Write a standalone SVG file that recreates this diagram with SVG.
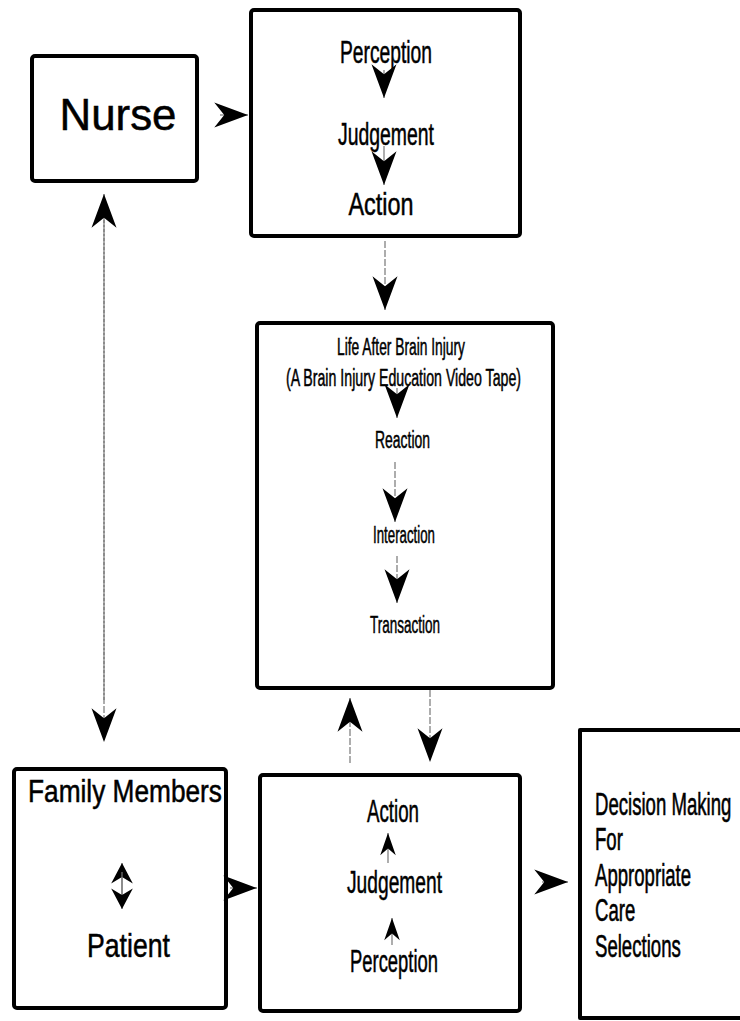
<svg xmlns="http://www.w3.org/2000/svg" width="740" height="1021" viewBox="0 0 740 1021">
<style>
.box{fill:#fff;stroke:#000;stroke-width:4;stroke-linejoin:round}
.open{fill:none;stroke:#000;stroke-width:4;stroke-linejoin:round}
.t{font-family:"Liberation Sans",Arial,sans-serif;fill:#000;stroke:#000;stroke-width:0.5;text-anchor:middle}
.tl{font-family:"Liberation Sans",Arial,sans-serif;fill:#000;stroke:#000;stroke-width:0.6;text-anchor:start}
.c{fill:none;stroke:#777;stroke-width:1.2}
.d{fill:none;stroke:#777;stroke-width:1.2;stroke-dasharray:7 2}
</style>
<defs>
<marker id="ah" markerUnits="userSpaceOnUse" markerWidth="40" markerHeight="30" viewBox="-28 -12 30 24" refX="0" refY="0" orient="auto">
<path d="M0,0 L-27,-10 L-19,0 L-27,10 Z" fill="#000"/>
</marker>
<marker id="ahm" markerUnits="userSpaceOnUse" markerWidth="30" markerHeight="26" viewBox="-22 -12 24 24" refX="0" refY="0" orient="auto">
<path d="M0,0 L-19,-10 L-13,0 L-19,10 Z" fill="#000"/>
</marker>
<marker id="ahs" markerUnits="userSpaceOnUse" markerWidth="30" markerHeight="20" viewBox="-22 -9 24 18" refX="0" refY="0" orient="auto">
<path d="M0,0 L-20,-7 L-14,0 L-20,7 Z" fill="#000"/>
</marker>
</defs>
<rect x="0" y="0" width="740" height="1021" fill="#fff"/>

<g id="nurse">
<rect class="box" x="32" y="56" width="165" height="125" rx="3"/>
<text class="t" x="118" y="130" font-size="44" textLength="117" lengthAdjust="spacingAndGlyphs">Nurse</text>
</g>

<g id="nurse-process">
<rect class="box" x="251" y="10" width="269" height="226" rx="3"/>
<text class="t" x="386" y="63" font-size="31" textLength="92" lengthAdjust="spacingAndGlyphs">Perception</text>
<text class="t" x="386" y="145" font-size="31" textLength="96" lengthAdjust="spacingAndGlyphs">Judgement</text>
<text class="t" x="381" y="215" font-size="31" textLength="65" lengthAdjust="spacingAndGlyphs">Action</text>
</g>

<g id="video">
<rect class="box" x="257" y="323" width="296" height="365" rx="3"/>
<text class="t" x="401" y="355" font-size="23" textLength="128" lengthAdjust="spacingAndGlyphs">Life After Brain Injury</text>
<text class="t" x="403.5" y="386" font-size="23" textLength="235" lengthAdjust="spacingAndGlyphs">(A Brain Injury Education Video Tape)</text>
<text class="t" x="402.5" y="448" font-size="23" textLength="55" lengthAdjust="spacingAndGlyphs">Reaction</text>
<text class="t" x="404" y="543" font-size="23" textLength="62" lengthAdjust="spacingAndGlyphs">Interaction</text>
<text class="t" x="405" y="633" font-size="23" textLength="70" lengthAdjust="spacingAndGlyphs">Transaction</text>
</g>

<g id="family">
<rect class="box" x="14" y="769" width="212" height="239" rx="3"/>
<text class="t" x="125" y="802" font-size="31" textLength="194" lengthAdjust="spacingAndGlyphs">Family Members</text>
<text class="t" x="128.5" y="957" font-size="33" textLength="83" lengthAdjust="spacingAndGlyphs">Patient</text>
</g>

<g id="family-process">
<rect class="box" x="260" y="775" width="260" height="236" rx="3"/>
<text class="t" x="393" y="822" font-size="31" textLength="52" lengthAdjust="spacingAndGlyphs">Action</text>
<text class="t" x="394.5" y="893" font-size="31" textLength="95" lengthAdjust="spacingAndGlyphs">Judgement</text>
<text class="t" x="394" y="972" font-size="31" textLength="88" lengthAdjust="spacingAndGlyphs">Perception</text>
</g>

<g id="decision">
<path class="open" d="M740,730 L580,730 L580,1018 L740,1018"/>
<g transform="translate(595 0) scale(0.6 1)">
<text class="tl" x="0" y="815" font-size="31">Decision Making</text>
<text class="tl" x="0" y="850" font-size="31">For</text>
<text class="tl" x="0" y="886" font-size="31">Appropriate</text>
<text class="tl" x="0" y="921" font-size="31">Care</text>
<text class="tl" x="0" y="957" font-size="31">Selections</text>
</g>
</g>

<g id="connectors">
<path class="c" d="M220,115 L248,115" marker-end="url(#ah)"/>
<path class="c" d="M384,70 L384,98" marker-end="url(#ah)"/>
<path class="c" d="M384,146 L384,185" marker-end="url(#ah)"/>
<path class="d" d="M385,241 L385,310" marker-end="url(#ah)"/>
<path class="c" d="M397,388 L397,418" marker-end="url(#ah)"/>
<path class="d" d="M395,462 L395,522" marker-end="url(#ah)"/>
<path class="d" d="M397,556 L397,603" marker-end="url(#ah)"/>
<path class="d" d="M104,700 L104,194" marker-end="url(#ah)"/>
<path class="d" d="M104,220 L104,742" marker-end="url(#ah)"/>
<path class="d" d="M350,763 L350,698" marker-end="url(#ah)"/>
<path class="d" d="M430,690 L430,762" marker-end="url(#ah)"/>
<path class="c" d="M122,900 L122,863" marker-end="url(#ahm)"/>
<path class="c" d="M122,872 L122,909" marker-end="url(#ahm)"/>
<path class="c" d="M230,888 L257,888" marker-end="url(#ah)"/>
<path class="c" d="M388,863 L388,833" marker-end="url(#ahs)"/>
<path class="c" d="M392,945 L392,918" marker-end="url(#ahs)"/>
<path class="c" d="M542,882 L568,882" marker-end="url(#ah)"/>
</g>
</svg>
